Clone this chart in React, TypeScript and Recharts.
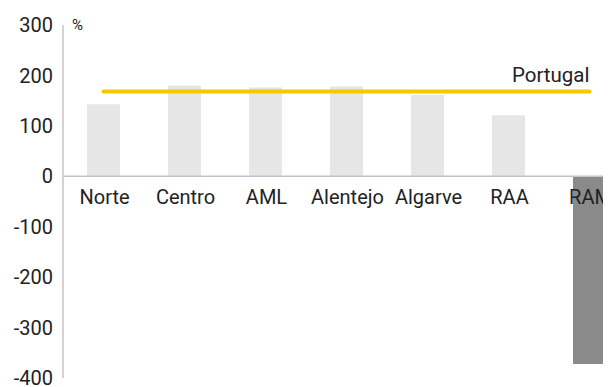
import React from 'react';
import { ComposedChart, Bar, Line, XAxis, YAxis, ReferenceLine, LabelList, Cell } from 'recharts';

const regions = ['Norte', 'Centro', 'AML', 'Alentejo', 'Algarve', 'RAA', 'RAM'];
const values = [143, 180, 176, 178, 161, 121, -372];
const portugal = 168;
const yTicks = [-400, -300, -200, -100, 0, 100, 200, 300];

const data = regions.map((name, i) => ({ name, value: values[i], portugal }));

const FONT = 'Roboto, sans-serif';
const TEXT = '#222222';
const FS = 20;

const lastIndex = regions.length - 1;

const PortugalLabel = (props: any) => {
  const { x, y, index } = props;
  if (index !== lastIndex) return null;
  return (
    <text x={x} y={y - 10} textAnchor="end" fontFamily={FONT} fontSize={FS + 0.5} fill={TEXT}>
      Portugal
    </text>
  );
};

const CatLabel = (props: any) => {
  const { x, y, width, height, index } = props;
  const v = values[index];
  const top = Math.min(y, y + height);
  const bottom = Math.max(y, y + height);
  const zeroY = v >= 0 ? bottom : top;
  return (
    <text x={x + width / 2 + 1} y={zeroY + 28} textAnchor="middle" fontFamily={FONT} fontSize={FS} fill={TEXT}>
      {regions[index]}
    </text>
  );
};

export default function App() {
  return (
    <ComposedChart
      width={640}
      height={379}
      data={data}
      margin={{ top: 17, right: 18, bottom: 9, left: 0 }}
      stackOffset="sign"
      style={{ fontFamily: FONT }}
    >
      <XAxis dataKey="name" hide />
      <YAxis
        domain={[-400, 300]}
        ticks={yTicks}
        width={55}
        tickLine={false}
        axisLine={{ stroke: '#C4C4C4', strokeWidth: 1.5 }}
        tickMargin={4}
        tick={{ fill: TEXT, fontSize: FS, fontFamily: FONT }}
        interval={0}
        label={{ value: '%', position: 'insideTopRight', dx: 25, dy: -11, fill: TEXT, fontSize: 15, fontFamily: FONT }}
      />
      <ReferenceLine y={0} stroke="#C4C4C4" strokeWidth={1.5} />
      <Bar dataKey="value" stackId="a" barSize={33} isAnimationActive={false}>
        {data.map((d, i) => (
          <Cell key={i} fill={d.value < 0 ? '#8A8A8A' : '#E6E6E6'} />
        ))}
        <LabelList dataKey="name" content={CatLabel} />
      </Bar>
      <Line
        dataKey="portugal"
        stroke="#F5C800"
        strokeWidth={4}
        strokeLinecap="round"
        dot={false}
        activeDot={false}
        isAnimationActive={false}
      >
        <LabelList dataKey="portugal" content={PortugalLabel} />
      </Line>
    </ComposedChart>
  );
}
